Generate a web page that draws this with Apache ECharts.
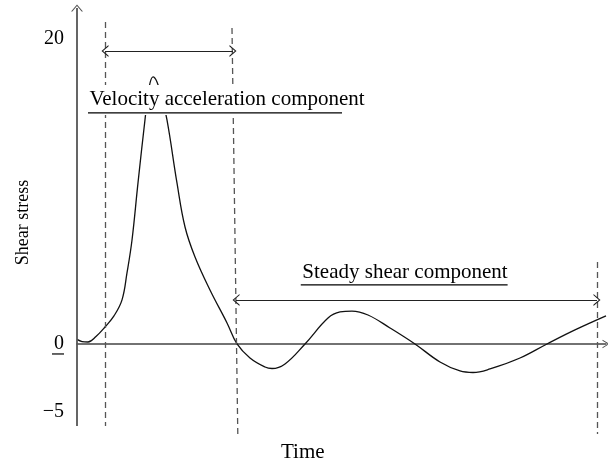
<!DOCTYPE html>
<html>
<head>
<meta charset="utf-8">
<script src="https://cdn.jsdelivr.net/npm/echarts@6/dist/echarts.min.js"></script>
<style>
  html, body { margin: 0; padding: 0; background: #fff; }
  #chart { width: 608px; height: 461px; }
</style>
</head>
<body>
<div id="chart"></div>
<script>
// curve (time in arbitrary units 0..100, shear stress)
var times = [0, 0.95, 2.08, 3.59, 5.29, 6.99, 8.51, 9.45, 10.4, 11.53, 12.85, 13.61, 14.37, 15.12, 15.88, 17.01,
  18.9, 20.42, 22.31, 25.14, 28.36, 30.25, 32.7, 35.54, 36.86, 39.32, 43.1, 47.45, 49.72, 51.98, 55.01, 59.17,
  63.89, 68.62, 72.4, 74.86, 78.07, 83.74, 88.85, 94.14, 100]
var stress = [0.3, 0.16, 0.13, 0.49, 1.11, 1.84, 2.89, 4.66, 6.82, 10.56, 14.69, 16.79, 17.51, 17.18, 16.33, 14.69,
  10.56, 7.67, 5.7, 3.54, 1.38, 0, -0.92, -1.51, -1.61, -1.31, 0, 1.7, 2.1, 2.16, 1.9, 1.05,
  0, -1.18, -1.77, -1.87, -1.64, -0.92, 0, 0.92, 1.84]

var yTickValues = [20, 0, -5]
var yTickLabels = ['20', '0', '−5']
var xTitle = 'Time'
var yTitle = 'Shear stress'

// annotation texts and where they sit (time, stress)
var noteTexts = ['Velocity acceleration component', 'Steady shear component']
var notePos = [[28.36, 16.0], [62.0, 4.66]]
var noteUnderline = [[2.08, 50.1, 15.15], [42.3, 81.4, 3.87]]

// dashed boundaries: [t top, y top, t bottom, y bottom]
var boundaries = [[5.29, 21.11, 5.29, -5.38], [29.3, 20.72, 30.4, -5.97], [98.3, 5.38, 98.3, -5.9]]
// double arrows: [t from, t to, y]
var spans = [[5.29, 29.49, 19.21], [30.06, 98.3, 2.89]]

var yMin = -6.1
var yMax = 22.03
var serif = 'Liberation Serif'
var ink = '#000'
var chevron = 'path://M0,10 L6,0 L12,10 L10.6,10 L6,2.3 L1.4,10 Z'

var curve = times.map(function (t, i) { return [t, stress[i]] })

var markData = []
boundaries.forEach(function (b) {
  markData.push([{ coord: [b[0], b[1]], symbol: 'none' }, { coord: [b[2], b[3]], symbol: 'none',
    lineStyle: { type: [6, 4], color: '#555', width: 1.3 } }])
})
spans.forEach(function (s) {
  markData.push([{ coord: [s[0], s[2]], symbol: chevron }, { coord: [s[1], s[2]], symbol: chevron,
    lineStyle: { type: 'solid', color: '#222', width: 1.2 } }])
})
// y axis line with arrow
markData.push([{ coord: [0, -5.38], symbol: 'none' }, { coord: [0, yMax], symbol: chevron,
  lineStyle: { type: 'solid', color: '#555', width: 1.8 } }])

var chart = echarts.init(document.getElementById('chart'))
var option = {
  backgroundColor: '#fff',
  animation: false,
  title: {
    text: xTitle,
    left: 281,
    top: 442,
    padding: 0,
    textStyle: { fontFamily: serif, fontSize: 21, fontWeight: 'normal', color: ink }
  },
  grid: { left: 77, right: 2, top: 8, bottom: 24, containLabel: false, outerBoundsMode: 'none' },
  xAxis: {
    type: 'value',
    min: 0,
    max: 100,
    axisLine: {
      onZero: true,
      symbol: ['none', chevron],
      symbolSize: [12, 7],
      lineStyle: { color: '#444', width: 1.6 }
    },
    axisTick: { show: false },
    axisLabel: { show: false },
    splitLine: { show: false }
  },
  yAxis: {
    type: 'value',
    min: yMin,
    max: yMax,
    name: yTitle,
    nameLocation: 'middle',
    nameGap: 39,
    nameTextStyle: { fontFamily: serif, fontSize: 18, color: ink },
    axisLine: { show: false },
    axisTick: { show: false },
    splitLine: { show: false },
    axisLabel: {
      customValues: yTickValues,
      margin: 13,
      fontFamily: serif,
      fontSize: 20,
      color: ink,
      formatter: function (v) {
        var i = yTickValues.indexOf(v)
        var s = i >= 0 ? yTickLabels[i] : ''
        return v < 0 ? '{up|' + s + '}' : s
      },
      rich: { up: { fontFamily: serif, fontSize: 20, color: ink, padding: [0, 0, 16, 0] } }
    }
  },
  series: [{
    type: 'line',
    data: curve,
    smooth: 0.4,
    symbol: 'none',
    z: 2,
    lineStyle: { color: '#111', width: 1.3 },
    markLine: {
      silent: true,
      animation: false,
      symbolSize: [12, 7],
      label: { show: false },
      lineStyle: { color: '#555' },
      data: markData
    }
  }]
}
chart.setOption(option)

// notes with white boxes, underlines, and the underline under the "0" tick label
var px = function (p) { return chart.convertToPixel({ gridIndex: 0 }, p) }
var graphics = []
noteTexts.forEach(function (txt, i) {
  var c = px(notePos[i])
  graphics.push({
    type: 'text', z: 100, silent: true,
    style: {
      x: c[0], y: c[1], text: txt, align: 'center', verticalAlign: 'middle',
      font: '21px "' + serif + '"', fill: ink, lineHeight: 22,
      backgroundColor: '#fff', padding: [0, 2, 8, 2]
    }
  })
  var u = noteUnderline[i]
  var a = px([u[0], u[2]])
  var b = px([u[1], u[2]])
  graphics.push({
    type: 'line', z: 101, silent: true,
    shape: { x1: a[0], y1: a[1], x2: b[0], y2: b[1] },
    style: { stroke: ink, lineWidth: 1.2 }
  })
})
var o = px([0, 0])
graphics.push({
  type: 'line', z: 101, silent: true,
  shape: { x1: o[0] - 25, y1: o[1] + 10, x2: o[0] - 13, y2: o[1] + 10 },
  style: { stroke: ink, lineWidth: 1.2 }
})
chart.setOption({ graphic: graphics })
window.addEventListener('resize', function () { chart.resize() })
</script>
</body>
</html>
